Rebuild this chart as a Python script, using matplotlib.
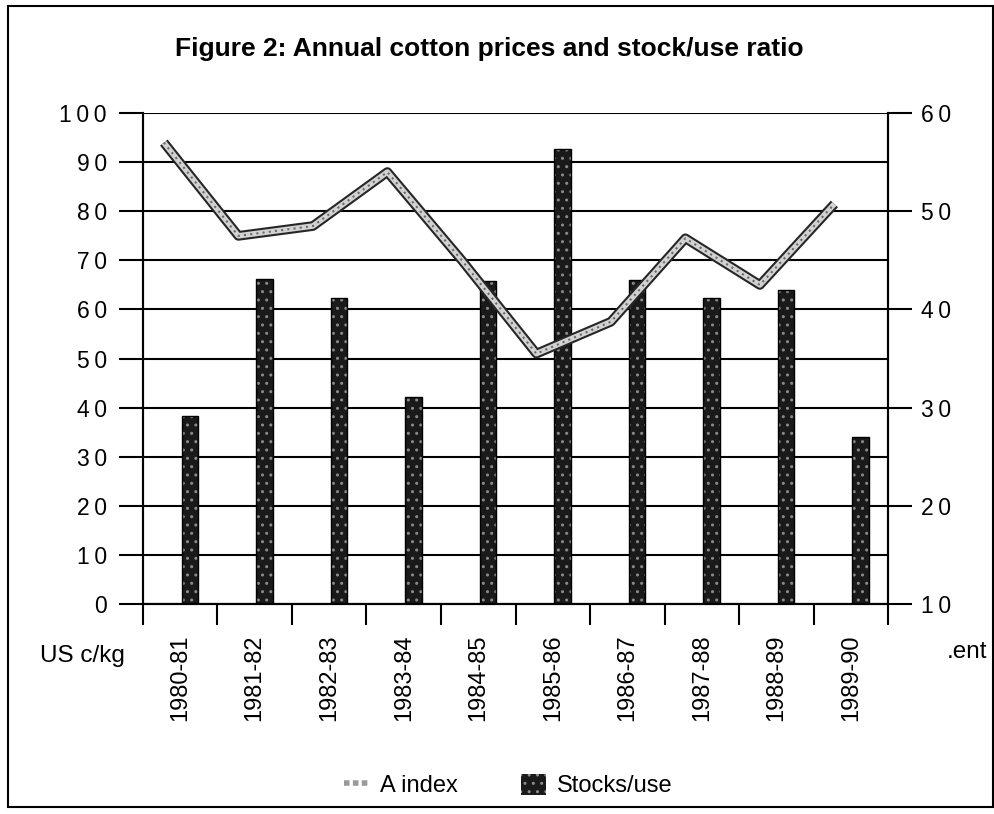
import numpy as np
import matplotlib
matplotlib.use('Agg')
import matplotlib.pyplot as plt
from matplotlib.lines import Line2D
from matplotlib.patches import Patch, Rectangle

plt.rcParams['font.family'] = ['Liberation Sans', 'DejaVu Sans']

# data
seasons = ['1980-81', '1981-82', '1982-83', '1983-84', '1984-85',
           '1985-86', '1986-87', '1987-88', '1988-89', '1989-90']
a_index = [94, 75, 77, 88, 70, 51, 57.5, 74.5, 65, 81.5]      # US c/kg, left axis
stocks_use = [29.2, 43.1, 41.2, 31.1, 42.9, 56.3, 43.0, 41.2, 42.0, 27.0]  # per cent, right axis
left_ticks = [0, 10, 20, 30, 40, 50, 60, 70, 80, 90, 100]
left_labels = ['0', '1\u20090', '2\u20090', '3\u20090', '4\u20090', '5\u20090',
               '6\u20090', '7\u20090', '8\u20090', '9\u20090', '1\u20090\u20090']
right_ticks = [10, 20, 30, 40, 50, 60]
right_labels = ['1\u20090', '2\u20090', '3\u20090', '4\u20090', '5\u20090', '6\u20090']

x = np.arange(len(seasons))

fig = plt.figure(figsize=(9.95, 8.14), dpi=100)
ax = fig.add_axes([0.1437, 0.258, 0.7488, 0.603])
ax2 = ax.twinx()

# bars on the right axis, grid lives here so it sits behind the bars
ax2.set_ylim(10, 60)
ax2.set_yticks(right_ticks)
ax2.set_yticklabels(right_labels, fontsize=16.5)
ax2.set_yticks(np.arange(15, 60, 10), minor=True)
ax2.tick_params(axis='y', which='major', direction='out', length=17, width=1.5, pad=7)
ax2.tick_params(axis='y', which='minor', length=0)
ax2.grid(True, which='both', axis='y', color='black', lw=1.5)
ax2.set_axisbelow(True)
ax2.bar(x + 0.13, np.array(stocks_use) - 10, bottom=10, width=0.22,
        color='#1a1a1a', edgecolor='#8a8a8a', hatch='..', lw=0, zorder=2)
ax2.bar(x + 0.13, np.array(stocks_use) - 10, bottom=10, width=0.22,
        fill=False, edgecolor='black', lw=1, zorder=3)

# A index line on the left axis, drawn above the bars
ax.set_zorder(ax2.get_zorder() + 1)
ax.patch.set_visible(False)
ax.set_ylim(0, 100)
ax.set_xlim(-0.5, 9.5)
ax.set_yticks(left_ticks)
ax.set_yticklabels(left_labels, fontsize=16.5)
ax.tick_params(axis='y', direction='out', length=17, width=1.5, pad=9)
ax.plot(x - 0.22, a_index, color='#262626', lw=7, solid_capstyle='butt', zorder=4)
ax.plot(x - 0.22, a_index, color='#d2d2d2', lw=4, solid_capstyle='butt', zorder=5)
ax.plot(x - 0.22, a_index, color='#6a6a6a', lw=1.5, ls=(0, (1, 2)), zorder=6)

ax.set_xticks(x)
ax.set_xticklabels(seasons, rotation=90, fontsize=17)
ax.set_xticks(np.arange(-0.5, 10, 1), minor=True)
ax.tick_params(axis='x', which='major', length=0, pad=22)
ax.tick_params(axis='x', which='minor', direction='out', length=15, width=1.5)
ax2.tick_params(axis='x', length=0)

for a in (ax, ax2):
    for s in a.spines.values():
        s.set_linewidth(1.5)
    a.spines['top'].set_visible(False)

fig.text(0.492, 0.94, 'Figure 2: Annual cotton prices and stock/use ratio',
         ha='center', va='center', fontsize=19, fontweight='bold')
fig.text(0.04, 0.194, 'US c/kg', fontsize=17.5, va='center')
fig.text(0.952, 0.199, '.ent', fontsize=17.5, va='center')

handles = [Line2D([], [], color='#9a9a9a', lw=4, ls=(0, (1, 0.6))),
           Patch(facecolor='#1a1a1a', edgecolor='#8a8a8a', hatch='..', lw=0)]
fig.legend(handles, ['A index', 'Stocks/use'], loc='center', ncol=2,
           bbox_to_anchor=(0.511, 0.035), frameon=False, fontsize=17,
           handlelength=1.05, handleheight=1.0, handletextpad=0.47,
           columnspacing=2.7)

# scanned page border
fig.add_artist(Rectangle((0.008, 0.008), 0.99, 0.985, transform=fig.transFigure,
                         fill=False, lw=1.5, edgecolor='black'))

fig.savefig('out.png', dpi=100)
